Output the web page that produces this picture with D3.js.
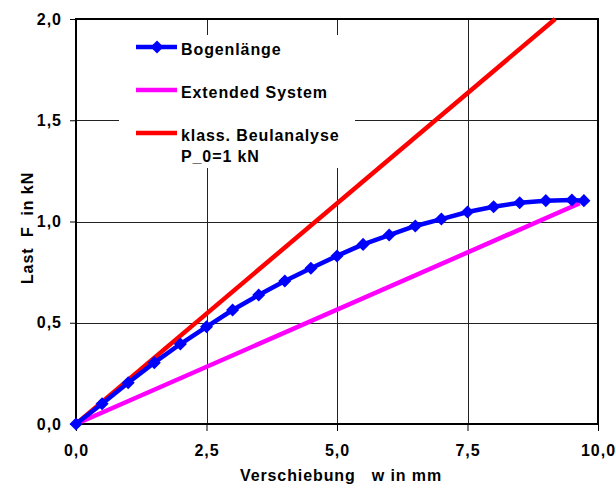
<!DOCTYPE html>
<html>
<head>
<meta charset="utf-8">
<script src="https://cdn.jsdelivr.net/npm/d3@7"></script>
<style>
  body { margin: 0; background: #fff; }
  text { font-family: "Liberation Sans", Arial, sans-serif; font-weight: bold; fill: #000; }
</style>
</head>
<body>
<div id="chart"></div>
<script>
// data
var wBogen = [0, 0.5, 1.0, 1.5, 2.0, 2.5, 3.0, 3.5, 4.0, 4.5, 5.0, 5.5, 6.0, 6.5, 7.0, 7.5, 8.0, 8.5, 9.0, 9.5, 9.73];
var fBogen = [0, 0.10, 0.204, 0.303, 0.395, 0.48, 0.563, 0.637, 0.706, 0.769, 0.83, 0.887, 0.933, 0.978, 1.012, 1.047, 1.073, 1.093, 1.103, 1.106, 1.103];
var wExt = [0, 9.65];
var fExt = [0, 1.09];
var wKlass = [0, 9.18];
var fKlass = [0, 2.0];
var xTicks = [0, 2.5, 5.0, 7.5, 10.0];
var yTicks = [0, 0.5, 1.0, 1.5, 2.0];
var legendLabels = [["Bogenlänge"], ["Extended System"], ["klass. Beulanalyse", "P_0=1 kN"]];
var colors = ["#0000ff", "#ff00ff", "#ff0000"];

var width = 616, height = 493;
var svg = d3.select("#chart").append("svg")
  .attr("width", width)
  .attr("height", height);

var x = d3.scaleLinear().domain([0, 10]).range([76, 598]);
var y = d3.scaleLinear().domain([0, 2]).range([424, 19]);

function fmt(d) { return d3.format(".1f")(d).replace(".", ","); }

// gridlines
svg.append("g").selectAll("line")
  .data(xTicks.slice(1, -1))
  .enter().append("line")
  .attr("x1", function(d) { return Math.round(x(d)) + 0.5; })
  .attr("x2", function(d) { return Math.round(x(d)) + 0.5; })
  .attr("y1", y(2)).attr("y2", y(0))
  .attr("stroke", "#222").attr("stroke-width", 1);
svg.append("g").selectAll("line")
  .data(yTicks.slice(1, -1))
  .enter().append("line")
  .attr("y1", function(d) { return Math.round(y(d)) + 0.5; })
  .attr("y2", function(d) { return Math.round(y(d)) + 0.5; })
  .attr("x1", x(0)).attr("x2", x(10))
  .attr("stroke", "#222").attr("stroke-width", 1);

// axes
var xAxis = d3.axisBottom(x).tickValues(xTicks).tickSize(7).tickPadding(14).tickFormat(fmt);
var yAxis = d3.axisLeft(y).tickValues(yTicks).tickSize(6).tickPadding(8).tickFormat(fmt);

var gx = svg.append("g").attr("transform", "translate(0," + y(0) + ")").call(xAxis);
var gy = svg.append("g").attr("transform", "translate(" + x(0) + ",0)").call(yAxis);
[gx, gy].forEach(function(g) {
  g.select(".domain").remove();
  g.selectAll(".tick line").attr("stroke", "#000");
  g.selectAll(".tick text")
    .style("font-size", "16px")
    .style("letter-spacing", "1px")
    .style("font-family", "Liberation Sans, Arial, sans-serif")
    .style("font-weight", "bold");
});

// frame
svg.append("rect")
  .attr("x", x(0)).attr("y", y(2))
  .attr("width", x(10) - x(0)).attr("height", y(0) - y(2))
  .attr("fill", "none").attr("stroke", "#000").attr("stroke-width", 2);

// legend box (covers the grid)
var lg = svg.append("g");
lg.append("rect").attr("x", 119).attr("y", 35).attr("width", 236).attr("height", 133).attr("fill", "#fff");

// series
var line = d3.line().x(function(d) { return x(d[0]); }).y(function(d) { return y(d[1]); });
var series = [
  { w: wKlass, f: fKlass, c: colors[2] },
  { w: wExt, f: fExt, c: colors[1] },
  { w: wBogen, f: fBogen, c: colors[0] }
];
series.forEach(function(s) {
  svg.append("path")
    .datum(d3.zip(s.w, s.f))
    .attr("d", line)
    .attr("fill", "none")
    .attr("stroke", s.c)
    .attr("stroke-width", 4.5)
    .attr("stroke-linejoin", "round");
});

var diamond = d3.symbol().type(d3.symbolSquare).size(85);
svg.append("g").selectAll("path")
  .data(d3.zip(wBogen, fBogen))
  .enter().append("path")
  .attr("d", diamond)
  .attr("transform", function(d) { return "translate(" + x(d[0]) + "," + y(d[1]) + ") rotate(45)"; })
  .attr("fill", colors[0]);

// legend entries
var rowY = [47, 90, 133];
legendLabels.forEach(function(lab, i) {
  lg.append("line")
    .attr("x1", 136).attr("x2", 177)
    .attr("y1", rowY[i]).attr("y2", rowY[i])
    .attr("stroke", colors[i]).attr("stroke-width", 4.5);
  if (i === 0) {
    lg.append("path").attr("d", diamond)
      .attr("transform", "translate(157," + rowY[i] + ") rotate(45)")
      .attr("fill", colors[0]);
  }
  lab.forEach(function(t, j) {
    lg.append("text")
      .attr("x", 181)
      .attr("y", rowY[i] + 8 + j * 21)
      .style("font-size", "16px")
      .style("letter-spacing", "0.9px")
      .text(t);
  });
});

// axis titles
svg.append("text")
  .attr("x", 341).attr("y", 481)
  .attr("text-anchor", "middle")
  .style("font-size", "16px")
  .style("letter-spacing", "0.9px")
  .style("white-space", "pre")
  .attr("xml:space", "preserve")
  .text("Verschiebung   w in mm");

svg.append("text")
  .attr("transform", "translate(33,228) rotate(-90)")
  .attr("text-anchor", "middle")
  .style("font-size", "16px")
  .style("letter-spacing", "0.9px")
  .style("white-space", "pre")
  .attr("xml:space", "preserve")
  .text("Last  F  in kN");
</script>
</body>
</html>
